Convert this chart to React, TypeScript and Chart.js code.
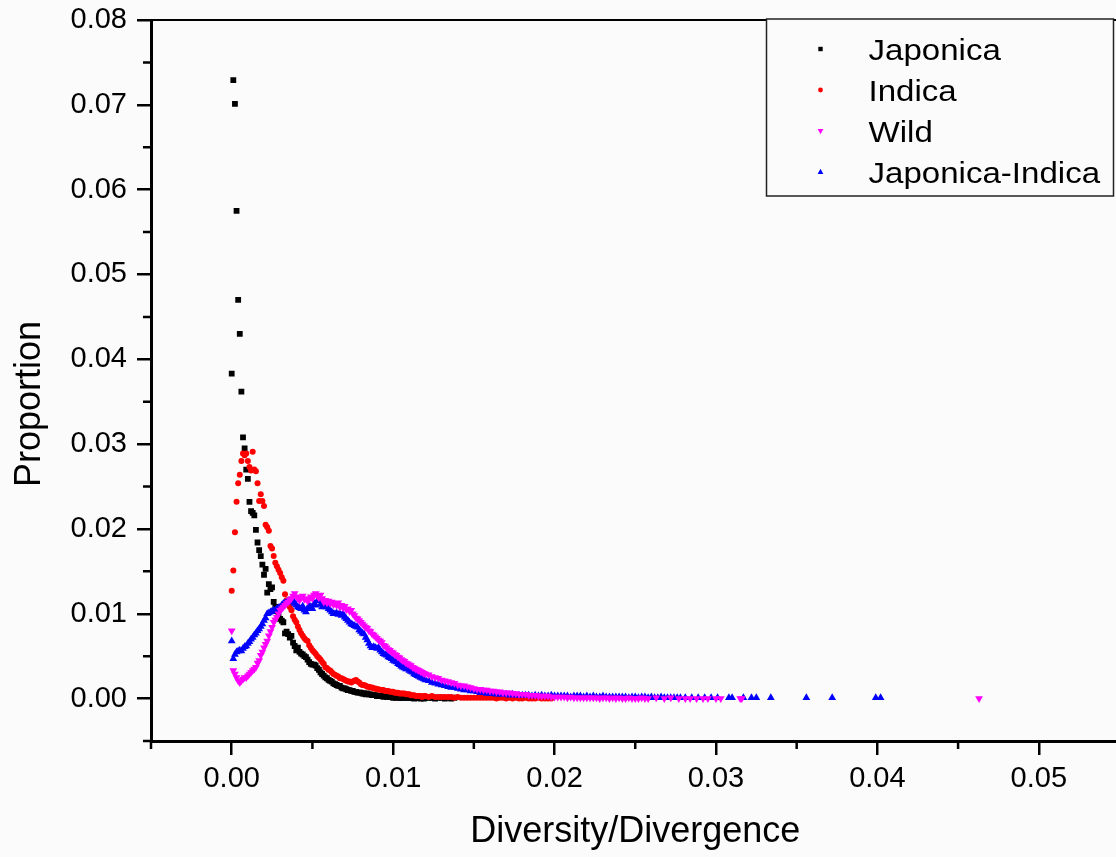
import React, { useEffect, useRef } from 'react';
import { Chart, registerables } from 'chart.js';

Chart.register(...registerables);

// ---------------- data ----------------
const BIN = 0.0001; // histogram bin width of the dense part
const TAIL_START = 0.012;
const TAIL_BIN = 0.0002;

const seriesNames = ['Japonica', 'Indica', 'Wild', 'Japonica-Indica'];

// values at x = 0, 0.0001, 0.0002, ... (bins 0 .. 0.0119)
const japonicaHead = [
  0.0383, 0.0729, 0.0701, 0.0575, 0.0470, 0.0430, 0.0362, 0.0308, 0.0295, 0.0270,
  0.0259, 0.0232, 0.0221, 0.0219, 0.0216, 0.0199, 0.0184, 0.0175, 0.0168, 0.0158,
  0.0146, 0.0153, 0.0125, 0.0135, 0.0129, 0.0131, 0.0114, 0.0108, 0.0103, 0.0097,
  0.0094, 0.0092, 0.0090, 0.0077, 0.0079, 0.0076, 0.0072, 0.0074, 0.0066, 0.0062,
  0.0057, 0.0060, 0.0055, 0.0053, 0.0052, 0.0050, 0.0049, 0.0046, 0.0043, 0.0041,
  0.0040, 0.0040, 0.0039, 0.0036, 0.0034, 0.0031, 0.0029, 0.0027, 0.0025, 0.0024,
  0.0022, 0.0021, 0.0020, 0.0018, 0.0017, 0.0016, 0.0015, 0.0015, 0.0013, 0.0012,
  0.0012, 0.0011, 0.0010, 0.0010, 0.0009, 0.0009, 0.0008, 0.0008, 0.0007, 0.0007,
  0.0007, 0.0006, 0.0006, 0.0005, 0.0006, 0.0005, 0.0005, 0.0004, 0.0004, 0.0004,
  0.0003, 0.0003, 0.0003, 0.0003, 0.0002, 0.0003, 0.0002, 0.0002, 0.0002, 0.0002,
  0.0001, 0.0002, 0.0001, 0.0002, 0.0001, 0.0001, 0.0001, 0.0002, 0.0001, 0.0001,
  0.0001, 0.0001, 0.0001, 0.0000, 0.0001, 0.0001, 0.0001, 0.0000, 0.0001, 0.0000,
];
// values at x = 0.012, 0.0122, 0.0124, ...
const japonicaTail = [0.0001, 0.0001, 0.0001, 0.0000, 0.0001, 0.0001, 0.0000, 0.0001, 0.0000, 0.0001];

const indicaHead = [
  0.0127, 0.0151, 0.0196, 0.0232, 0.0254, 0.0264, 0.0280, 0.0289, 0.0287, 0.0289,
  0.0280, 0.0273, 0.0269, 0.0291, 0.0270, 0.0268, 0.0254, 0.0233, 0.0241, 0.0233,
  0.0227, 0.0205, 0.0202, 0.0198, 0.0180, 0.0177, 0.0168, 0.0160, 0.0156, 0.0152,
  0.0148, 0.0143, 0.0139, 0.0123, 0.0116, 0.0112, 0.0108, 0.0104, 0.0097, 0.0093,
  0.0090, 0.0085, 0.0081, 0.0077, 0.0074, 0.0071, 0.0069, 0.0068, 0.0063, 0.0060,
  0.0057, 0.0055, 0.0053, 0.0050, 0.0048, 0.0046, 0.0043, 0.0041, 0.0037, 0.0036,
  0.0034, 0.0033, 0.0031, 0.0029, 0.0028, 0.0027, 0.0026, 0.0024, 0.0024, 0.0023,
  0.0022, 0.0021, 0.0020, 0.0020, 0.0019, 0.0020, 0.0021, 0.0022, 0.0020, 0.0019,
  0.0017, 0.0016, 0.0016, 0.0015, 0.0014, 0.0014, 0.0013, 0.0013, 0.0012, 0.0012,
  0.0011, 0.0011, 0.0010, 0.0010, 0.0010, 0.0009, 0.0009, 0.0009, 0.0008, 0.0008,
  0.0008, 0.0007, 0.0007, 0.0007, 0.0006, 0.0006, 0.0006, 0.0006, 0.0005, 0.0005,
  0.0005, 0.0004, 0.0004, 0.0004, 0.0003, 0.0003, 0.0003, 0.0003, 0.0002, 0.0003,
];
const indicaTail = [
  0.0003, 0.0002, 0.0003, 0.0002, 0.0002, 0.0002, 0.0002, 0.0002, 0.0002, 0.0001,
  0.0002, 0.0001, 0.0001, 0.0001, 0.0001, 0.0001, 0.0001, 0.0001, 0.0001, 0.0001,
  0.0001, 0.0001, 0.0000, 0.0001, 0.0001, 0.0000, 0.0001, 0.0000, 0.0001, 0.0000,
  0.0000, 0.0001, 0.0000, 0.0000, 0.0000, 0.0001, 0.0000, 0.0000, 0.0000, 0.0000,
];

const wildHead = [
  0.0080, 0.0033, 0.0029, 0.0025, 0.0021, 0.0019, 0.0021, 0.0023, 0.0025, 0.0025,
  0.0027, 0.0029, 0.0031, 0.0033, 0.0035, 0.0037, 0.0042, 0.0045, 0.0051, 0.0055,
  0.0060, 0.0064, 0.0068, 0.0074, 0.0079, 0.0084, 0.0090, 0.0093, 0.0096, 0.0100,
  0.0104, 0.0106, 0.0108, 0.0110, 0.0112, 0.0114, 0.0116, 0.0118, 0.0121, 0.0124,
  0.0120, 0.0118, 0.0116, 0.0119, 0.0121, 0.0117, 0.0118, 0.0115, 0.0117, 0.0120,
  0.0118, 0.0122, 0.0124, 0.0121, 0.0119, 0.0122, 0.0118, 0.0114, 0.0116, 0.0113,
  0.0115, 0.0112, 0.0114, 0.0111, 0.0112, 0.0110, 0.0113, 0.0108, 0.0110, 0.0107,
  0.0109, 0.0105, 0.0106, 0.0103, 0.0104, 0.0100, 0.0098, 0.0095, 0.0094, 0.0092,
  0.0090, 0.0088, 0.0086, 0.0084, 0.0083, 0.0080, 0.0079, 0.0076, 0.0075, 0.0073,
  0.0071, 0.0069, 0.0068, 0.0066, 0.0063, 0.0062, 0.0060, 0.0058, 0.0057, 0.0055,
  0.0054, 0.0052, 0.0051, 0.0049, 0.0048, 0.0046, 0.0045, 0.0044, 0.0042, 0.0041,
  0.0040, 0.0039, 0.0037, 0.0036, 0.0035, 0.0034, 0.0033, 0.0032, 0.0031, 0.0030,
];
const wildTail = [
  0.0029, 0.0028, 0.0026, 0.0025, 0.0024, 0.0022, 0.0021, 0.0020, 0.0019, 0.0018,
  0.0016, 0.0015, 0.0015, 0.0014, 0.0013, 0.0012, 0.0011, 0.0011, 0.0010, 0.0010,
  0.0009, 0.0009, 0.0008, 0.0008, 0.0007, 0.0007, 0.0007, 0.0006, 0.0006, 0.0005,
  0.0005, 0.0005, 0.0004, 0.0004, 0.0004, 0.0003, 0.0003, 0.0003, 0.0003, 0.0002,
  0.0002, 0.0002, 0.0002, 0.0002, 0.0001, 0.0002, 0.0001, 0.0001, 0.0001, 0.0001,
  0.0001, 0.0001, 0.0001, 0.0001, 0.0000, 0.0001, 0.0001, 0.0000, 0.0001, 0.0000,
  0.0001, 0.0000, 0.0000, 0.0001, 0.0000, 0.0000, 0.0000, 0.0001, 0.0000, 0.0000,
];
const wildSparseX = [0.0263, 0.0268, 0.0272, 0.0277, 0.0281, 0.0284, 0.0288, 0.0292, 0.0295, 0.0300, 0.0303, 0.0315, 0.0316, 0.0463];
const wildSparseY = [0.0001, 0.0000, 0.0001, 0.0000, 0.0000, 0.0000, 0.0000, 0.0000, 0.0000, 0.0000, 0.0000, 0.0000, 0.0000, 0.0000];

const hybridHead = [
  0.0068, 0.0047, 0.0052, 0.0055, 0.0056, 0.0057, 0.0056, 0.0059, 0.0061, 0.0062,
  0.0065, 0.0067, 0.0070, 0.0072, 0.0075, 0.0077, 0.0080, 0.0082, 0.0085, 0.0088,
  0.0092, 0.0095, 0.0100, 0.0101, 0.0102, 0.0103, 0.0104, 0.0104, 0.0106, 0.0107,
  0.0108, 0.0110, 0.0112, 0.0113, 0.0114, 0.0115, 0.0114, 0.0116, 0.0116, 0.0112,
  0.0110, 0.0108, 0.0107, 0.0106, 0.0109, 0.0104, 0.0102, 0.0106, 0.0110, 0.0108,
  0.0106, 0.0112, 0.0110, 0.0115, 0.0118, 0.0111, 0.0108, 0.0110, 0.0108, 0.0110,
  0.0106, 0.0104, 0.0102, 0.0100, 0.0100, 0.0101, 0.0099, 0.0100, 0.0098, 0.0100,
  0.0096, 0.0094, 0.0092, 0.0090, 0.0088, 0.0087, 0.0086, 0.0085, 0.0084, 0.0081,
  0.0079, 0.0077, 0.0076, 0.0072, 0.0069, 0.0065, 0.0062, 0.0060, 0.0061, 0.0060,
  0.0059, 0.0060, 0.0057, 0.0055, 0.0053, 0.0052, 0.0051, 0.0049, 0.0048, 0.0047,
  0.0045, 0.0044, 0.0043, 0.0041, 0.0040, 0.0038, 0.0037, 0.0036, 0.0035, 0.0035,
  0.0033, 0.0032, 0.0031, 0.0029, 0.0028, 0.0027, 0.0026, 0.0025, 0.0024, 0.0023,
];
const hybridTail = [
  0.0022, 0.0021, 0.0019, 0.0018, 0.0017, 0.0016, 0.0015, 0.0014, 0.0013, 0.0013,
  0.0012, 0.0011, 0.0010, 0.0010, 0.0009, 0.0009, 0.0008, 0.0007, 0.0007, 0.0006,
  0.0006, 0.0006, 0.0005, 0.0005, 0.0005, 0.0005, 0.0004, 0.0005, 0.0004, 0.0004,
  0.0004, 0.0004, 0.0004, 0.0003, 0.0004, 0.0003, 0.0004, 0.0003, 0.0003, 0.0004,
  0.0003, 0.0003, 0.0003, 0.0003, 0.0003, 0.0002, 0.0003, 0.0003, 0.0003, 0.0002,
  0.0003, 0.0002, 0.0003, 0.0002, 0.0002, 0.0003, 0.0002, 0.0002, 0.0002, 0.0002,
  0.0002, 0.0002, 0.0002, 0.0001, 0.0002, 0.0002, 0.0001, 0.0002, 0.0002, 0.0001,
  0.0002, 0.0001, 0.0001, 0.0002, 0.0001, 0.0001, 0.0001, 0.0001, 0.0001, 0.0001,
];
const hybridSparseX = [0.0281, 0.0285, 0.0289, 0.0293, 0.0297, 0.0301, 0.0308, 0.0310, 0.0317, 0.0322, 0.0325, 0.0334, 0.0356, 0.0372, 0.0399, 0.0402];
const hybridSparseY = [0.0001, 0.0001, 0.0001, 0.0001, 0.0001, 0.0001, 0.0001, 0.0001, 0.0001, 0.0001, 0.0001, 0.0001, 0.0001, 0.0001, 0.0001, 0.0001];

const xTicks = [0, 0.01, 0.02, 0.03, 0.04, 0.05];
const xMinorTicks = [-0.005, 0.005, 0.015, 0.025, 0.035, 0.045];
const yTicks = [0, 0.01, 0.02, 0.03, 0.04, 0.05, 0.06, 0.07, 0.08];
const yMinorTicks = [-0.005, 0.005, 0.015, 0.025, 0.035, 0.045, 0.055, 0.065, 0.075];

const xTitle = 'Diversity/Divergence';
const yTitle = 'Proportion';

// ---------------- helpers ----------------
const FONT = "'Liberation Sans', Arial, Helvetica, sans-serif";
const BG = '#fbfbfb';

const head = (vals: number[]) => vals.map((y, i) => ({ x: i * BIN, y }));
const tail = (vals: number[]) => vals.map((y, i) => ({ x: TAIL_START + i * TAIL_BIN, y }));
const sparse = (xs: number[], ys: number[]) => xs.map((x, i) => ({ x, y: ys[i] }));

const markerStyles = [
  { style: 'rect', color: '#000000', radius: 4.1, rotation: 0 },
  { style: 'circle', color: '#ff0000', radius: 3.0, rotation: 0 },
  { style: 'triangle', color: '#ff00ff', radius: 4.5, rotation: 180 },
  { style: 'triangle', color: '#0000ff', radius: 4.5, rotation: 0 },
];

function drawMarker(ctx: CanvasRenderingContext2D, kind: string, x: number, y: number, r: number, rot: number) {
  ctx.beginPath();
  if (kind === 'rect') {
    ctx.rect(x - r, y - r, 2 * r, 2 * r);
  } else if (kind === 'circle') {
    ctx.arc(x, y, r, 0, Math.PI * 2);
  } else {
    const s = rot === 180 ? -1 : 1;
    ctx.moveTo(x, y - s * r);
    ctx.lineTo(x + r * 0.9, y + s * r * 0.6);
    ctx.lineTo(x - r * 0.9, y + s * r * 0.6);
    ctx.closePath();
  }
  ctx.fill();
}

const bgPlugin = {
  id: 'bgFill',
  beforeDraw(chart: any) {
    const { ctx, width, height } = chart;
    ctx.save();
    ctx.fillStyle = BG;
    ctx.fillRect(0, 0, width, height);
    ctx.restore();
  },
};

const framePlugin = {
  id: 'frameAndMinor',
  afterDraw(chart: any) {
    const { ctx, chartArea: a, scales } = chart;
    ctx.save();
    ctx.strokeStyle = '#000';
    ctx.lineWidth = 2.5;
    ctx.beginPath();
    xMinorTicks.forEach((v) => {
      const px = scales.x.getPixelForValue(v);
      ctx.moveTo(px, a.bottom);
      ctx.lineTo(px, a.bottom + 8);
    });
    yMinorTicks.forEach((v) => {
      const py = scales.y.getPixelForValue(v);
      ctx.moveTo(a.left, py);
      ctx.lineTo(a.left - 8, py);
    });
    ctx.stroke();
    // top frame line
    ctx.lineWidth = 2;
    ctx.beginPath();
    ctx.moveTo(a.left - 1, a.top);
    ctx.lineTo(a.right + 2, a.top);
    ctx.stroke();

    // y axis title (drawn here to match its offset position)
    ctx.fillStyle = '#000';
    ctx.font = `36px ${FONT}`;
    ctx.textAlign = 'center';
    ctx.textBaseline = 'alphabetic';
    ctx.translate(40, 404);
    ctx.rotate(-Math.PI / 2);
    ctx.fillText(yTitle, 0, 0);
    ctx.restore();
  },
};

const legendPlugin = {
  id: 'boxLegend',
  afterDraw(chart: any) {
    const { ctx, chartArea: a } = chart;
    const left = a.right - 353;
    const top = a.top - 1;
    const w = 347;
    const h = 177;
    ctx.save();
    ctx.fillStyle = BG;
    ctx.fillRect(left, top, w, h);
    ctx.strokeStyle = '#222';
    ctx.lineWidth = 1.5;
    ctx.strokeRect(left, top, w, h);
    chart.data.datasets.forEach((ds: any, i: number) => {
      const m = markerStyles[i];
      const cy = top + 30 + i * 41;
      ctx.fillStyle = m.color;
      const r = m.style === 'rect' ? 2.2 : m.style === 'circle' ? 2.4 : 3.2;
      drawMarker(ctx, m.style, left + 54, cy, r, m.rotation);
      ctx.save();
      ctx.fillStyle = '#000';
      ctx.font = `29px ${FONT}`;
      ctx.textAlign = 'left';
      ctx.textBaseline = 'alphabetic';
      ctx.translate(left + 102, cy + 10.5);
      ctx.scale(1.14, 1);
      ctx.fillText(ds.label, 0, 0);
      ctx.restore();
    });
    ctx.restore();
  },
};

export default function App() {
  const canvasRef = useRef<HTMLCanvasElement | null>(null);

  useEffect(() => {
    document.body.style.margin = '0';
    document.body.style.overflow = 'hidden';
    const canvas = canvasRef.current;
    if (!canvas) return;

    const pointData = [
      [...head(japonicaHead), ...tail(japonicaTail)],
      [...head(indicaHead), ...tail(indicaTail)],
      [...head(wildHead), ...tail(wildTail), ...sparse(wildSparseX, wildSparseY)],
      [...head(hybridHead), ...tail(hybridTail), ...sparse(hybridSparseX, hybridSparseY)],
    ];
    const drawOrder = [4, 3, 1, 2];

    const datasets = seriesNames.map((name, i) => ({
      label: name,
      data: pointData[i],
      showLine: false,
      pointStyle: markerStyles[i].style,
      pointRadius: markerStyles[i].radius,
      pointRotation: markerStyles[i].rotation,
      pointBorderWidth: 0,
      borderWidth: 0,
      backgroundColor: markerStyles[i].color,
      pointBackgroundColor: markerStyles[i].color,
      borderColor: markerStyles[i].color,
      pointBorderColor: markerStyles[i].color,
      order: drawOrder[i],
    }));

    const chart = new Chart(canvas, {
      type: 'scatter',
      data: { datasets } as any,
      options: {
        animation: false,
        responsive: false,
        events: [],
        layout: { padding: { top: 20, right: 4, left: 0, bottom: 0 } },
        plugins: {
          legend: { display: false },
          tooltip: { enabled: false },
        },
        scales: {
          x: {
            type: 'linear',
            min: -0.005,
            max: 0.055,
            afterBuildTicks: (s: any) => {
              s.ticks = xTicks.map((v) => ({ value: v }));
            },
            afterFit: (s: any) => {
              s.height = 116;
              s.paddingLeft = 0;
              s.paddingRight = 0;
            },
            ticks: {
              color: '#000',
              font: { family: FONT, size: 29 },
              padding: 7,
              autoSkip: false,
              maxRotation: 0,
              callback: (v: any) => Number(v).toFixed(2),
            },
            grid: {
              display: true,
              drawOnChartArea: false,
              drawTicks: true,
              tickLength: 14,
              color: '#000',
              lineWidth: 2.5,
            },
            border: { display: true, color: '#000', width: 3 },
            title: {
              display: true,
              text: xTitle,
              color: '#000',
              font: { family: FONT, size: 36 },
              padding: { top: 0, bottom: 3 },
            },
          },
          y: {
            type: 'linear',
            min: -0.005,
            max: 0.08,
            afterBuildTicks: (s: any) => {
              s.ticks = yTicks.map((v) => ({ value: v }));
            },
            afterFit: (s: any) => {
              s.width = 151;
              s.paddingTop = 0;
              s.paddingBottom = 0;
            },
            ticks: {
              color: '#000',
              font: { family: FONT, size: 29 },
              padding: 10,
              autoSkip: false,
              callback: (v: any) => Number(v).toFixed(2),
            },
            grid: {
              display: true,
              drawOnChartArea: false,
              drawTicks: true,
              tickLength: 14,
              color: '#000',
              lineWidth: 2.5,
            },
            border: { display: true, color: '#000', width: 3 },
          },
        },
      } as any,
      plugins: [bgPlugin, framePlugin, legendPlugin],
    });

    return () => {
      chart.destroy();
    };
  }, []);

  return (
    <div style={{ width: 1116, height: 857, overflow: 'hidden', background: BG }}>
      <canvas ref={canvasRef} width={1124} height={857} style={{ display: 'block' }} />
    </div>
  );
}
